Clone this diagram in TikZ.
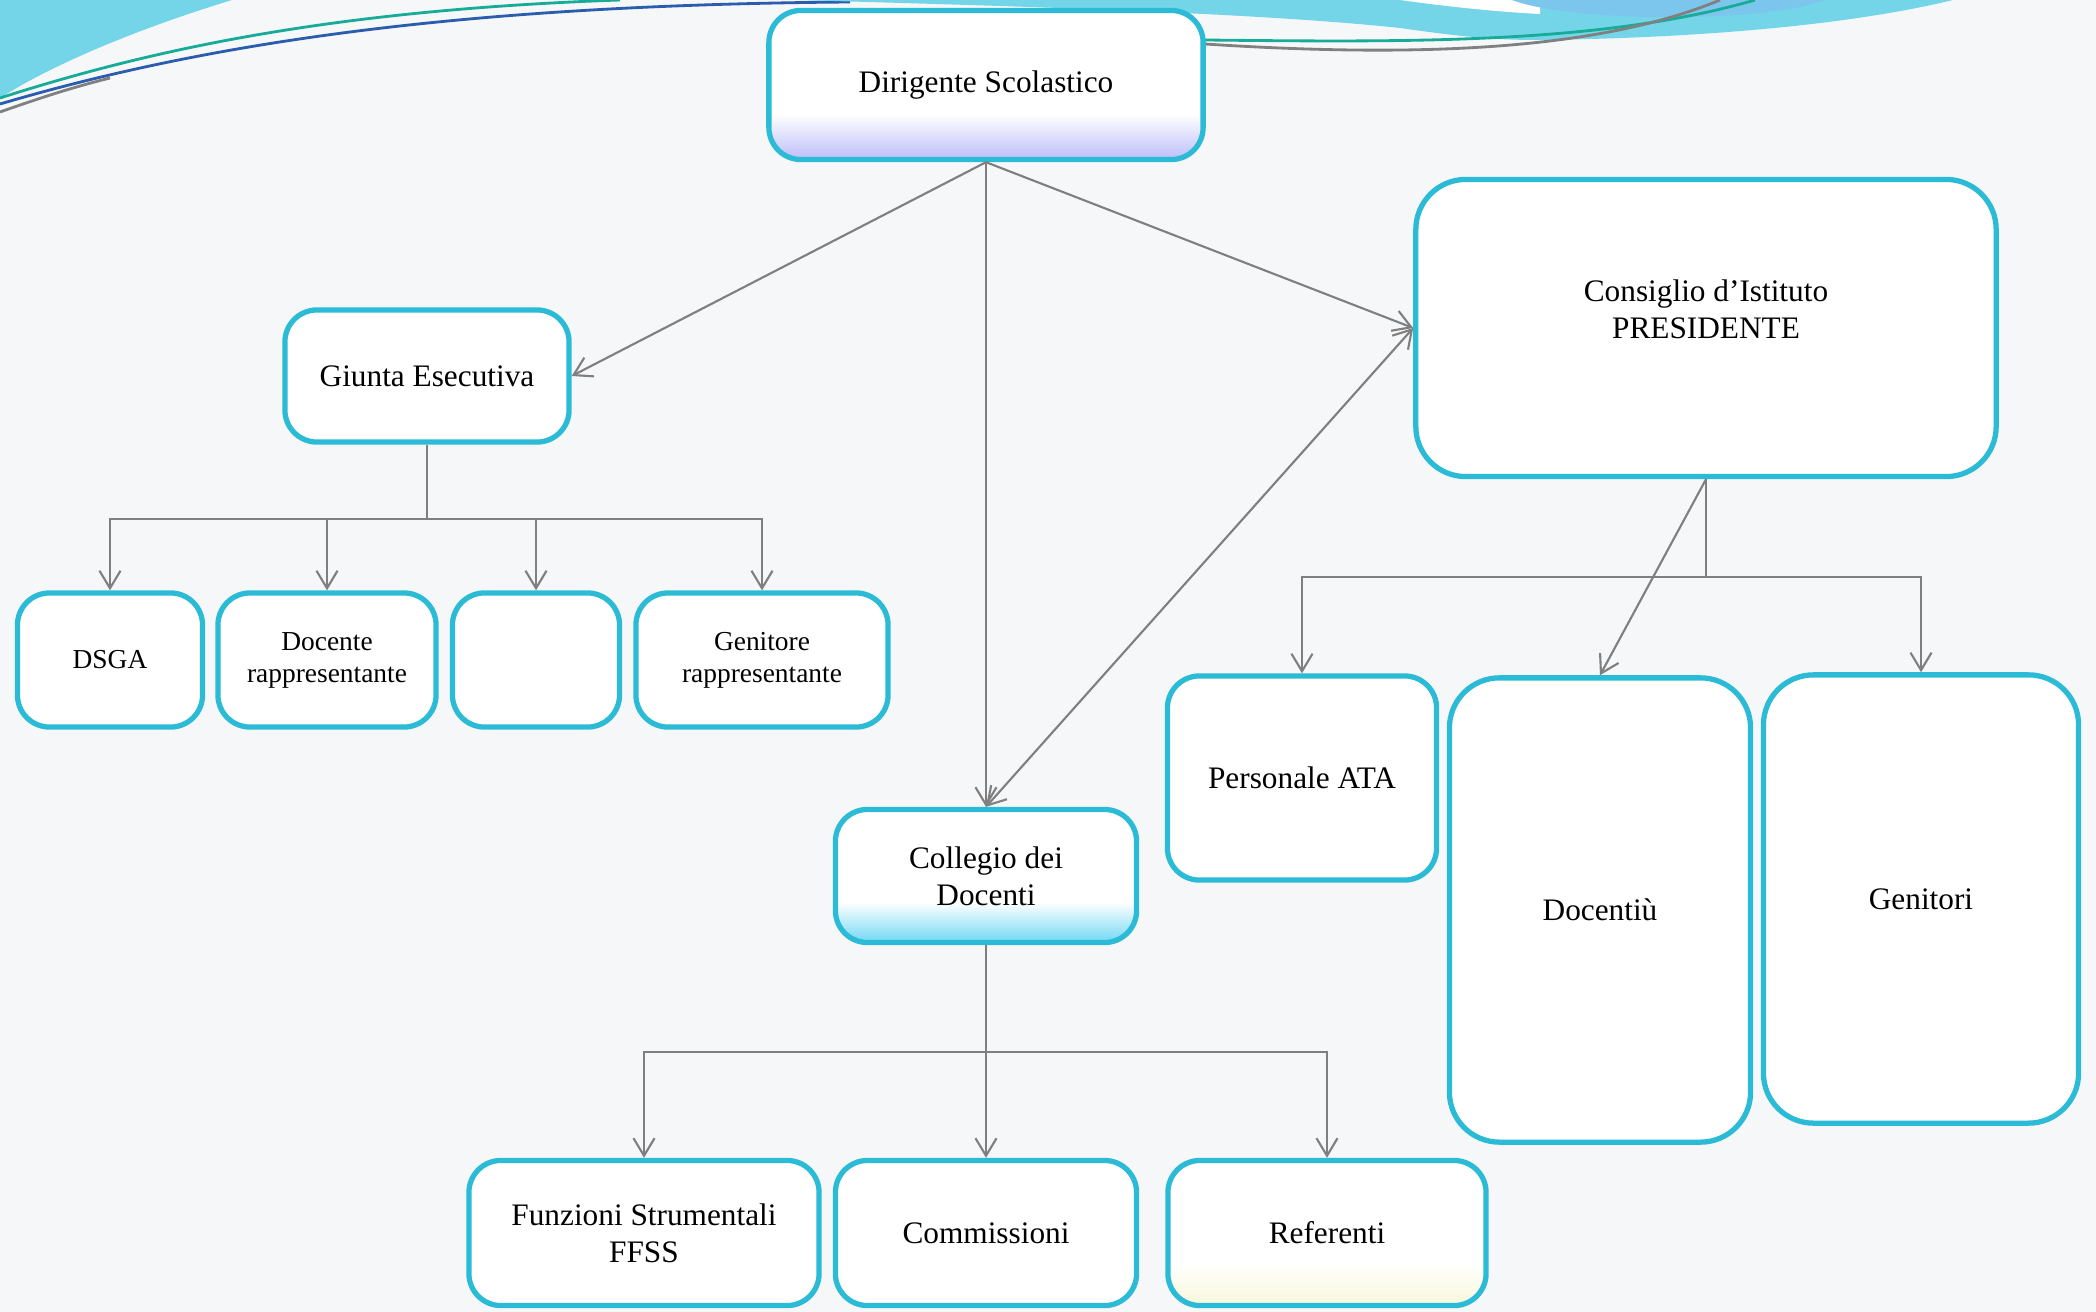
\documentclass[tikz,border=0pt]{standalone}
\usepackage{fontspec}
\setmainfont{Liberation Serif}
\usepackage{xcolor}
\usepackage{tikz}
\usetikzlibrary{calc, arrows.meta}

\definecolor{boxcyan}{HTML}{2BBBD6}
\definecolor{linkgrey}{HTML}{7F7F7F}
\definecolor{paper}{HTML}{F6F7F9}
\definecolor{swoosh}{HTML}{74D5E8}
\definecolor{swooshblue}{HTML}{7CC6EE}
\definecolor{lavender}{HTML}{BEBEFA}
\definecolor{icecyan}{HTML}{74D8F4}
\definecolor{paleyellow}{HTML}{F8F8DC}
\definecolor{tealline}{HTML}{17AB98}
\definecolor{deepblue}{HTML}{2A5DAD}

\begin{document}
\begin{tikzpicture}[x=0.01cm, y=-0.01cm,
	unit/.style={draw=boxcyan, line width=1.5pt, fill=white, rounded corners=0.32cm,
		align=center, inner sep=2pt, font=\fontsize{8.9}{10.5}\selectfont},
	bigunit/.style={unit, rounded corners=0.5cm},
	smallunit/.style={unit, font=\fontsize{7.8}{9.1}\selectfont},
	base/.style={path picture={
		\foreach \k in {0,...,29} {
			\pgfmathsetmacro\mix{100-3.4*\k}
			\pgfmathsetmacro\lo{\k*0.01}
			\pgfmathsetmacro\hi{(\k+1.5)*0.01}
			\fill[sharp corners, #1!\mix!white]
				($(path picture bounding box.south west)!\lo!(path picture bounding box.north west)$) rectangle
				($(path picture bounding box.south east)!\hi!(path picture bounding box.north east)$);
		}}},
	wire/.style={draw=linkgrey, line width=0.6pt},
	link/.style={wire, -{Straight Barb[length=5pt,width=6pt]}}
	]
			\def\W{2096};
			\def\H{1312};

			\useasboundingbox (0,0) rectangle (\W,\H);
			\fill[paper] (0,0) rectangle (\W,\H);

			% top swooshes
			\begin{scope}
				\clip (0,0) rectangle (\W,\H);
				\fill[swoosh] (0,0) -- (232,0) .. controls (150,25) and (60,60) .. (0,98) -- cycle;
				\draw[tealline, line width=0.8pt] (0,98) .. controls (150,50) and (330,10) .. (620,0);
				\draw[deepblue, line width=0.8pt] (0,104) .. controls (200,45) and (450,5) .. (850,2);
				\draw[gray, line width=0.8pt] (0,112) .. controls (40,98) and (70,88) .. (110,78);

				\fill[swoosh] (800,0) .. controls (1000,6) and (1250,12) .. (1400,28)
					.. controls (1470,38) and (1500,40) .. (1540,40)
					.. controls (1700,38) and (1850,25) .. (1953,0) -- cycle;
				\fill[white] (1400,0) .. controls (1450,7) and (1500,12) .. (1540,14) -- (1540,0) -- cycle;
				\fill[swooshblue] (1512,0) .. controls (1570,22) and (1760,24) .. (1826,0) -- cycle;
				\draw[tealline, line width=0.8pt] (1205,40) .. controls (1400,42) and (1600,45) .. (1755,0);
				\draw[gray, line width=0.8pt] (1205,44) .. controls (1420,58) and (1600,50) .. (1720,0);
			\end{scope}

			% boxes
			\node[unit, base=lavender, minimum width=4.34cm, minimum height=1.49cm] (dirigente) at (986,85) {Dirigente Scolastico};
			\node[unit, minimum width=2.84cm, minimum height=1.32cm] (giunta) at (427,376) {Giunta Esecutiva};

			\node[smallunit, minimum width=1.85cm, minimum height=1.34cm] (dsga) at (110,660) {DSGA};
			\node[smallunit, minimum width=2.18cm, minimum height=1.34cm] (docrap) at (327,660) {Docente\\rappresentante};
			\node[smallunit, minimum width=1.67cm, minimum height=1.34cm] (vuoto) at (536,660) {};
			\node[smallunit, minimum width=2.52cm, minimum height=1.34cm] (genrap) at (762,660) {Genitore\\rappresentante};

			\node[bigunit, minimum width=5.8cm, minimum height=2.97cm] (consiglio) at (1706,328) {Consiglio d’Istituto\\PRESIDENTE\\\mbox{}};
			\node[unit, minimum width=2.69cm, minimum height=2.04cm] (ata) at (1302,778) {Personale ATA};
			\node[bigunit, minimum width=3.01cm, minimum height=4.64cm] (docentiu) at (1600,910) {Docentiù};
			\node[bigunit, minimum width=3.15cm, minimum height=4.48cm] (genitori) at (1921,899) {Genitori};

			\node[unit, base=icecyan, minimum width=3.01cm, minimum height=1.33cm] (collegio) at (986,876) {Collegio dei\\Docenti};
			\node[unit, minimum width=3.5cm, minimum height=1.45cm] (funzioni) at (644,1233) {Funzioni Strumentali\\FFSS};
			\node[unit, minimum width=3.01cm, minimum height=1.45cm] (commissioni) at (986,1233) {Commissioni};
			\node[unit, base=paleyellow, minimum width=3.18cm, minimum height=1.45cm] (referenti) at (1327,1233) {Referenti};

			% links from the head
			\draw[link] (dirigente.south) -- (giunta.east);
			\draw[link] (dirigente.south) -- (collegio.north);
			\draw[link] (dirigente.south) -- (consiglio.west);
			\draw[link, {Straight Barb[length=5pt,width=6pt]}-{Straight Barb[length=5pt,width=6pt]}] (collegio.north) -- (consiglio.west);

			% branches
			\coordinate (giunta fork) at (427,519);
			\draw[wire] (giunta.south) -- (giunta fork);
			\foreach \n in {dsga, docrap, vuoto, genrap}
				\draw[link] (giunta fork) -| (\n.north);

			\coordinate (consiglio fork) at (1706,577);
			\draw[wire] (consiglio.south) -- (consiglio fork);
			\foreach \n in {ata, genitori}
				\draw[link] (consiglio fork) -| (\n.north);
			\draw[link] (consiglio.south) -- (docentiu.north);

			\coordinate (collegio fork) at (986,1052);
			\draw[wire] (collegio.south) -- (collegio fork);
			\foreach \n in {funzioni, commissioni, referenti}
				\draw[link] (collegio fork) -| (\n.north);
		\end{tikzpicture}
\end{document}
